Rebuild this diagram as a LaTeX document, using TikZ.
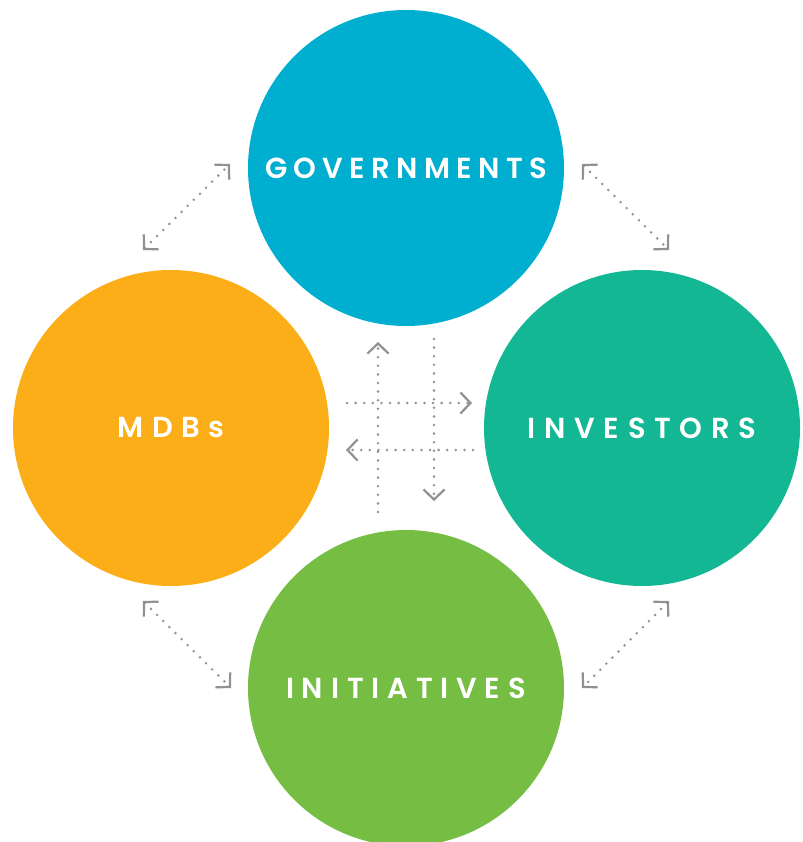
\documentclass[tikz,border=0pt]{standalone}
\usepackage{fontspec}
\newfontfamily\lab{Poppins}[UprightFont=* SemiBold, LetterSpace=22]
\usetikzlibrary{arrows.meta}
\definecolor{govc}{RGB}{0,174,208}
\definecolor{mdbc}{RGB}{251,174,23}
\definecolor{invc}{RGB}{20,183,148}
\definecolor{inic}{RGB}{118,190,67}
\definecolor{dotc}{RGB}{145,145,145}
\tikzset{
  bubble/.style={circle, minimum size=316pt, inner sep=0pt, draw=none, text=white, font=\lab\fontsize{29}{32}\selectfont},
  flow/.style={draw=dotc, line width=2.8pt, line cap=round, dash pattern=on 0pt off 8.6pt,
     arrows={-Straight Barb[length=10pt,width=21pt,line width=2.2pt]}},
  flowboth/.style={flow, arrows={Straight Barb[length=10pt,width=21pt,line width=2.2pt]-Straight Barb[length=10pt,width=21pt,line width=2.2pt]}}
}
\begin{document}
\begin{tikzpicture}[x=1pt,y=-1pt]
\useasboundingbox (0,0) rectangle (802,842);
\node[bubble, fill=govc] (gov) at (406,168) {GOVERNMENTS};
\node[bubble, fill=mdbc] (mdb) at (171,428) {\addfontfeatures{LetterSpace=29}MDBs};
\node[bubble, fill=invc] (inv) at (642,428) {\addfontfeatures{LetterSpace=30}INVESTORS};
\node[bubble, fill=inic] (ini) at (406,688) {\addfontfeatures{LetterSpace=27}INITIATIVES};
% diagonal double arrows
\coordinate (a1) at (143,250); \coordinate (a2) at (230,164);
\coordinate (b1) at (582,164); \coordinate (b2) at (669,250);
\coordinate (c1) at (143,601); \coordinate (c2) at (231,688);
\coordinate (d1) at (669,601); \coordinate (d2) at (582,688);
\draw[flowboth] (a1) -- (a2);
\draw[flowboth] (b1) -- (b2);
\draw[flowboth] (c1) -- (c2);
\draw[flowboth] (d1) -- (d2);
% central arrows
\coordinate (u0) at (378,512); \coordinate (u1) at (378,342);
\coordinate (v0) at (434,339); \coordinate (v1) at (434,501);
\coordinate (r0) at (347,403); \coordinate (r1) at (472,403);
\coordinate (l0) at (473,450); \coordinate (l1) at (346,450);
\draw[flow] (u0) -- (u1);
\draw[flow] (v0) -- (v1);
\draw[flow] (r0) -- (r1);
\draw[flow] (l0) -- (l1);
\end{tikzpicture}
\end{document}
